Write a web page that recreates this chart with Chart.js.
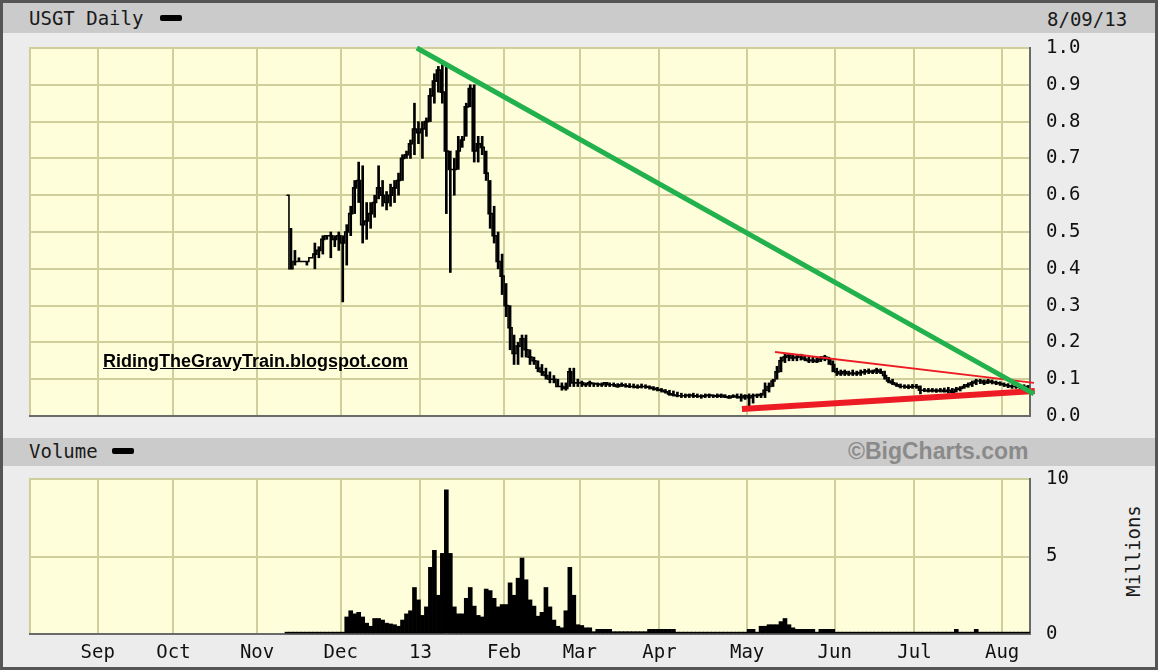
<!DOCTYPE html>
<html>
<head>
<meta charset="utf-8">
<script src="https://cdn.jsdelivr.net/npm/chart.js@4.4.0/dist/chart.umd.min.js"></script>
<style>
body { margin: 0; background: #fff; }
#wrap { position: relative; width: 1158px; height: 670px; background: #ececec; overflow: hidden;
        font-family: "DejaVu Sans Mono", monospace; }
.frame { position: absolute; left: 0; top: 0; width: 1158px; height: 670px; box-sizing: border-box;
         border: 3px solid #555; pointer-events: none; z-index: 5; }
.band { position: absolute; left: 0; width: 1158px; background: #cbcbcb; }
.lbl { position: absolute; font-size: 19px; line-height: 22px; color: #1a1a1a; white-space: nowrap; }
.key { position: absolute; width: 22px; height: 6px; background: #000; border-radius: 2px; }
canvas { position: absolute; left: 0; }
</style>
</head>
<body>
<div id="wrap">
  <div class="band" style="top:0;height:33px"></div>
  <div class="band" style="top:438px;height:28px"></div>
  <div class="lbl" style="left:29px;top:7px">USGT Daily</div>
  <div class="key" style="left:160px;top:15px"></div>
  <div class="lbl" style="left:1047px;top:8px">8/09/13</div>
  <div class="lbl" style="left:29px;top:440px">Volume</div>
  <div class="key" style="left:112px;top:448px"></div>
  <div class="lbl" style="left:848px;top:438px;font-family:'Liberation Sans',Arial,sans-serif;font-weight:bold;font-size:23px;line-height:26px;color:#8a8a8a">©BigCharts.com</div>
  <div class="lbl" style="left:1087px;top:540px;transform:rotate(-90deg);transform-origin:center;">Millions</div>
  <canvas id="price" width="1158" height="460" style="top:0"></canvas>
  <canvas id="volume" width="1158" height="240" style="top:430px"></canvas>
  <div class="lbl" style="left:103px;top:350px;font-family:'Liberation Sans',Arial,sans-serif;font-weight:bold;font-size:18px;color:#000;text-decoration:underline;z-index:4">RidingTheGravyTrain.blogspot.com</div>
  <div class="frame"></div>
</div>
<script>
// trading-day index of first traded day (day 0 = Aug 9 2012)
const firstDay = 64;

const highs = [
  .60,.51,.45,.43,.42,.42,.43,.47,.46,.49,
  .49,.50,.49,.50,.49,.52,.57,.64,.69,.68,
  .58,.58,.60,.68,.64,.61,.63,.64,.66,.71,
  .72,.75,.85,.80,.80,.81,.89,.93,.95,.96,
  .95,.72,.70,.76,.76,.85,.90,.90,.76,.76,
  .72,.64,.57,.50,.44,.36,.30,.22,.20,.22,
  .22,.18,.16,.15,.14,.13,.12,.11,.10,.09,
  .09,.13,.13,.10,.095,.09,.095,.09,.09,.09,
  .09,.09,.09,.088,.09,.088,.088,.087,.085,.087,
  .085,.082,.08,.078,.075,.072,.07,.068,.065,.062,
  .06,.06,.062,.06,.058,.06,.06,.058,.06,.06,
  .058,.056,.058,.06,.06,.058,.06,.06,.06,.062,
  .09,.09,.10,.135,.16,.17,.17,.168,.165,.168,
  .165,.16,.16,.158,.162,.165,.16,.15,.13,.125,
  .125,.122,.125,.122,.125,.127,.128,.125,.13,.128,
  .122,.105,.10,.09,.087,.085,.085,.086,.086,.082,
  .075,.075,.075,.074,.075,.076,.078,.075,.078,.08,
  .086,.09,.095,.10,.10,.098,.10,.098,.095,.093,
  .09,.088,.085,.085,.082,.085,.083
];
const lows = [
  .60,.40,.41,.42,.42,.41,.43,.40,.43,.44,
  .48,.43,.46,.45,.31,.41,.49,.55,.58,.47,
  .48,.51,.54,.59,.57,.56,.57,.58,.60,.64,
  .70,.70,.71,.74,.70,.76,.80,.85,.88,.85,
  .55,.39,.60,.67,.73,.76,.84,.69,.69,.71,
  .64,.51,.47,.40,.33,.27,.18,.14,.14,.16,
  .16,.14,.14,.12,.11,.10,.09,.09,.08,.07,
  .07,.08,.08,.08,.08,.08,.08,.08,.08,.08,
  .08,.08,.08,.078,.08,.078,.077,.076,.075,.076,
  .075,.073,.07,.068,.065,.062,.056,.054,.052,.05,
  .05,.05,.05,.05,.048,.05,.05,.05,.05,.05,
  .05,.048,.05,.048,.04,.045,.025,.035,.05,.05,
  .05,.065,.08,.10,.12,.145,.15,.15,.15,.152,
  .15,.145,.145,.145,.148,.15,.14,.12,.11,.11,
  .11,.11,.11,.11,.11,.113,.115,.115,.115,.115,
  .10,.09,.085,.08,.076,.075,.074,.075,.075,.06,
  .066,.065,.065,.064,.065,.065,.062,.062,.065,.068,
  .075,.078,.08,.085,.088,.085,.088,.087,.085,.083,
  .08,.077,.075,.075,.074,.075,.074
];
const closes = [
  .60,.40,.42,.42,.42,.42,.43,.44,.45,.48,
  .49,.49,.48,.49,.47,.50,.55,.62,.64,.52,
  .53,.55,.58,.62,.60,.58,.60,.62,.64,.70,
  .71,.74,.78,.77,.78,.80,.87,.91,.94,.88,
  .72,.67,.67,.72,.75,.84,.89,.72,.74,.73,
  .66,.55,.49,.42,.38,.30,.24,.17,.19,.21,
  .18,.16,.15,.13,.12,.11,.10,.10,.08,.08,
  .075,.12,.09,.09,.09,.085,.09,.088,.087,.085,
  .09,.085,.085,.08,.085,.082,.08,.08,.078,.08,
  .08,.078,.075,.072,.07,.066,.06,.057,.055,.055,
  .055,.057,.055,.054,.053,.055,.057,.055,.054,.056,
  .052,.05,.054,.052,.05,.055,.05,.055,.056,.058,
  .07,.08,.095,.12,.15,.16,.165,.158,.16,.165,
  .155,.15,.152,.148,.155,.16,.155,.14,.12,.115,
  .12,.115,.117,.115,.118,.12,.122,.12,.125,.12,
  .11,.095,.09,.085,.08,.08,.078,.08,.08,.07,
  .07,.068,.07,.068,.07,.067,.07,.065,.072,.075,
  .08,.085,.09,.095,.095,.09,.095,.092,.09,.088,
  .085,.082,.08,.08,.078,.08,.078
];
// volume in millions
const volumes = [
  .12,.12,.12,.12,.12,.12,.12,.12,.12,.12,
  .12,.12,.12,.12,.12,1.1,1.5,1.3,1.4,1.1,
  .7,.5,1.0,1.0,.9,.7,.65,.6,.5,.9,
  1.3,1.5,3.0,2.2,1.2,1.75,4.3,5.4,2.5,5.2,
  9.3,5.2,1.75,1.3,1.3,2.3,3.0,1.8,1.2,1.1,
  2.9,2.8,2.3,1.75,1.9,1.9,3.3,2.5,3.6,4.9,
  3.5,2.2,1.8,1.15,1.4,3.0,1.75,.9,.5,.4,
  1.5,4.3,2.5,.6,.55,.4,.4,.15,.3,.3,
  .3,.3,.15,.15,.15,.15,.15,.15,.15,.15,
  .15,.3,.3,.3,.3,.3,.3,.3,.12,.12,
  .12,.12,.12,.12,.12,.12,.12,.12,.12,.12,
  .12,.12,.12,.12,.12,.12,.3,.3,.12,.5,
  .5,.6,.6,.6,.8,1.0,.6,.4,.3,.3,
  .3,.3,.3,.12,.3,.3,.3,.3,.12,.12,
  .12,.12,.12,.12,.12,.12,.12,.12,.12,.12,
  .12,.12,.12,.12,.12,.12,.12,.12,.12,.12,
  .12,.12,.12,.12,.12,.12,.12,.12,.3,.12,
  .12,.12,.12,.3,.12,.12,.12,.12,.12,.12,
  .12,.12,.12,.12,.12,.12,.12
];

// first trading day of each month, and its label
const monthStarts = [17, 36, 57, 78, 98, 119, 138, 158, 180, 202, 222, 244];
const monthLabels = ['Sep', 'Oct', 'Nov', 'Dec', '13', 'Feb', 'Mar', 'Apr', 'May', 'Jun', 'Jul', 'Aug'];
const lastDay = 250;

// hand drawn trend lines: [day, price]
const greenTrend = [[96.6, 1.0], [251.5, 0.06]];
const redUpper = [[186.5, 0.174], [251.5, 0.09]];
const redLower = [[178.2, 0.019], [251.7, 0.068]];

const gridColor = '#cfcf9c';
const tickFont = { family: 'DejaVu Sans Mono', size: 19 };

const plotFrame = {
    id: 'plotFrame',
    beforeDraw(chart) {
        const { ctx, chartArea: a } = chart;
        ctx.save();
        ctx.fillStyle = '#fefedb';
        ctx.fillRect(a.left, a.top, a.right - a.left, a.bottom - a.top);
        ctx.restore();
    },
    beforeDatasetsDraw(chart) {
        const { ctx, chartArea: a } = chart;
        ctx.save();
        ctx.fillStyle = gridColor;
        ctx.fillRect(a.left - 1, a.top - 1, a.right - a.left, 2);
        ctx.fillRect(a.left - 1, a.top - 1, 2, a.bottom - a.top);
        ctx.fillStyle = '#6a6a6a';
        ctx.fillRect(a.right - 1, a.top - 1, 2, a.bottom - a.top + 2);
        ctx.fillRect(a.left - 1, a.bottom - 1, a.right - a.left + 1, 2);
        ctx.restore();
    }
};

function monthAxis(showLabels) {
    return {
        type: 'linear',
        min: -0.5,
        max: lastDay + 0.5,
        offset: false,
        afterBuildTicks: s => { s.ticks = monthStarts.map(d => ({ value: d - 0.5 })); },
        afterFit: s => { s.height = showLabels ? 36 : 0; },
        grid: { color: gridColor, lineWidth: 2, drawTicks: false, offset: false },
        border: { display: false },
        ticks: {
            display: showLabels,
            autoSkip: false,
            maxRotation: 0,
            padding: 8,
            color: '#111',
            font: tickFont,
            callback: (v, i) => monthLabels[i]
        }
    };
}

const days = closes.map((c, i) => firstDay + i);

function trend(pts, color, width) {
    return {
        type: 'line',
        data: pts.map(p => ({ x: p[0], y: p[1] })),
        borderColor: color,
        borderWidth: width,
        pointRadius: 0,
        clip: false
    };
}

new Chart(document.getElementById('price'), {
    type: 'bar',
    data: {
        datasets: [
            trend(greenTrend, '#22b14c', 5),
            trend(redUpper, '#ed1c24', 2),
            trend(redLower, '#ed1c24', 6),
            {
                type: 'line',
                data: days.map((d, i) => ({ x: d, y: closes[i] })),
                stepped: 'middle',
                borderColor: '#000',
                borderWidth: 1.6,
                pointRadius: 0
            },
            {
                type: 'bar',
                data: days.map((d, i) => ({ x: d, y: [lows[i], highs[i]] })),
                backgroundColor: '#000',
                barThickness: 2
            }
        ]
    },
    options: {
        responsive: false,
        animation: false,
        events: [],
        layout: { padding: { left: 30, top: 48, right: 0, bottom: 44 } },
        plugins: { legend: { display: false }, tooltip: { enabled: false } },
        scales: {
            x: monthAxis(false),
            y: {
                position: 'right',
                min: 0,
                max: 1,
                afterFit: s => { s.width = 128; },
                grid: { color: gridColor, lineWidth: 2, drawTicks: false },
                border: { display: false },
                ticks: {
                    stepSize: 0.1,
                    padding: 16,
                    color: '#111',
                    font: tickFont,
                    callback: v => v.toFixed(1)
                }
            }
        }
    },
    plugins: [plotFrame]
});

new Chart(document.getElementById('volume'), {
    type: 'bar',
    data: {
        datasets: [{
            data: days.map((d, i) => ({ x: d, y: volumes[i] })),
            backgroundColor: '#000',
            barPercentage: 1,
            categoryPercentage: 1
        }]
    },
    options: {
        responsive: false,
        animation: false,
        events: [],
        layout: { padding: { left: 30, top: 49, right: 0, bottom: 0 } },
        plugins: { legend: { display: false }, tooltip: { enabled: false } },
        scales: {
            x: monthAxis(true),
            y: {
                position: 'right',
                min: 0,
                max: 10,
                afterFit: s => { s.width = 128; },
                grid: { color: gridColor, lineWidth: 2, drawTicks: false },
                border: { display: false },
                ticks: { stepSize: 5, padding: 16, color: '#111', font: tickFont }
            }
        }
    },
    plugins: [plotFrame]
});
</script>
</body>
</html>
